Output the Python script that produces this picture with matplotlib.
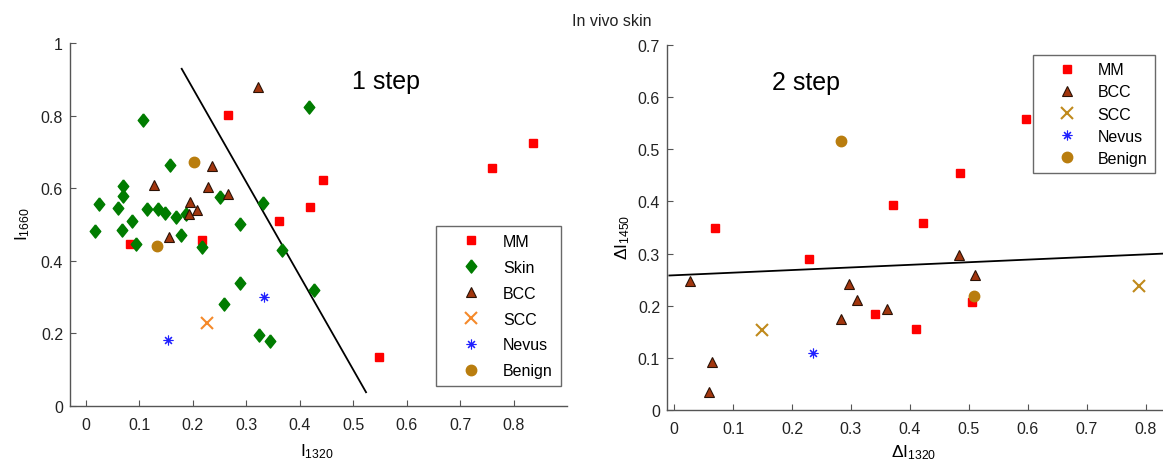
import numpy as np
import matplotlib
matplotlib.use("Agg")
import matplotlib.pyplot as plt

plt.rcParams['font.family'] = ['Liberation Sans', 'DejaVu Sans']
plt.rcParams['mathtext.fontset'] = 'custom'
plt.rcParams['mathtext.rm'] = 'Liberation Sans'
plt.rcParams['mathtext.it'] = 'Liberation Sans:italic'

# ---- 1 step (I1320 vs I1660) ----
mm1_x = [0.083, 0.2175, 0.266, 0.361, 0.420, 0.444, 0.5475, 0.759, 0.836]
mm1_y = [0.446, 0.456, 0.801, 0.509, 0.547, 0.623, 0.134, 0.657, 0.725]
skin_x = [0.016, 0.025, 0.059, 0.067, 0.070, 0.070, 0.086, 0.093, 0.106, 0.114,
          0.134, 0.148, 0.157, 0.168, 0.178, 0.1875, 0.2175, 0.251, 0.259, 0.289,
          0.289, 0.323, 0.331, 0.344, 0.366, 0.418, 0.426]
skin_y = [0.482, 0.556, 0.546, 0.484, 0.606, 0.578, 0.510, 0.446, 0.789, 0.542,
          0.542, 0.532, 0.664, 0.520, 0.471, 0.528, 0.437, 0.575, 0.281, 0.501,
          0.339, 0.195, 0.560, 0.178, 0.429, 0.823, 0.321]
bcc1_x = [0.128, 0.155, 0.194, 0.1925, 0.207, 0.228, 0.236, 0.266, 0.322]
bcc1_y = [0.610, 0.467, 0.561, 0.530, 0.540, 0.604, 0.660, 0.584, 0.878]
scc1_x = [0.227]
scc1_y = [0.228]
nev1_x = [0.153, 0.333]
nev1_y = [0.183, 0.299]
ben1_x = [0.133, 0.2025]
ben1_y = [0.442, 0.672]
line1_x = [0.179, 0.524]
line1_y = [0.929, 0.038]

# ---- 2 step (dI1320 vs dI1450) ----
mm2_x = [0.069, 0.229, 0.341, 0.371, 0.410, 0.4226, 0.484, 0.506, 0.596]
mm2_y = [0.350, 0.290, 0.184, 0.394, 0.155, 0.359, 0.455, 0.208, 0.558]
bcc2_x = [0.027, 0.065, 0.059, 0.2836, 0.2966, 0.3107, 0.3605, 0.483, 0.511]
bcc2_y = [0.248, 0.093, 0.035, 0.174, 0.241, 0.2116, 0.1937, 0.297, 0.2595]
scc2_x = [0.1497, 0.788]
scc2_y = [0.154, 0.237]
nev2_x = [0.235]
nev2_y = [0.109]
ben2_x = [0.2825, 0.508]
ben2_y = [0.515, 0.219]
line2_x = [-0.008, 0.9]
line2_y = [0.258, 0.3035]

xt1 = [0, 0.1, 0.2, 0.3, 0.4, 0.5, 0.6, 0.7, 0.8]
xt1_lab = ['0', '0.1', '0.2', '0.3', '0.4', '0.5', '0.6', '0.7', '0.8']
yt1 = [0, 0.2, 0.4, 0.6, 0.8, 1.0]
yt1_lab = ['0', '0.2', '0.4', '0.6', '0.8', '1']
yt2 = [0, 0.1, 0.2, 0.3, 0.4, 0.5, 0.6, 0.7]
yt2_lab = ['0', '0.1', '0.2', '0.3', '0.4', '0.5', '0.6', '0.7']

RED = '#ff0000'
GREEN = '#007c00'
BROWN = '#a2360e'
BROWN_EDGE = '#2a1206'
ORANGE = '#f5892a'
GOLD = '#c08a1c'
BLUE = '#2020ff'
BENIGN = '#b97d0e'
AXC = '#555555'

# matlab-like diamond (wider than mpl 'd')
DIAMOND = [(0, 1), (0.8, 0), (0, -1), (-0.8, 0), (0, 1)]

fig = plt.figure(figsize=(11.63, 4.64), dpi=100)
ax1 = fig.add_axes([0.0602, 0.1228, 0.4273, 0.7823])
ax2 = fig.add_axes([0.5735, 0.1142, 0.4265, 0.7866])

def style(ax):
    for s in ['top', 'right']:
        ax.spines[s].set_visible(False)
    for s in ['left', 'bottom']:
        ax.spines[s].set_color(AXC)
        ax.spines[s].set_linewidth(1.0)
    ax.tick_params(direction='in', length=4, width=0.8, color=AXC,
                   labelsize=11.5, labelcolor='#222222')
    ax.tick_params(axis='x', pad=8)
    ax.tick_params(axis='y', pad=5)

# left panel
ax1.plot(line1_x, line1_y, color='black', lw=1.3, zorder=1)
ax1.plot(mm1_x, mm1_y, ls='none', marker='s', ms=6, color=RED, mec=RED, label='MM')
ax1.plot(skin_x, skin_y, ls='none', marker=DIAMOND, ms=9.5, color=GREEN, mec=GREEN, label='Skin')
ax1.plot(bcc1_x, bcc1_y, ls='none', marker='^', ms=7.5, color=BROWN, mec=BROWN_EDGE,
         mew=0.8, label='BCC')
ax1.plot(scc1_x, scc1_y, ls='none', marker='x', ms=8, color=ORANGE, mew=1.5, label='SCC')
ax1.plot(nev1_x, nev1_y, ls='none', marker=(8, 2, 0), ms=7, color=BLUE, mew=0.8, label='Nevus')
ax1.plot(ben1_x, ben1_y, ls='none', marker='o', ms=7.5, color=BENIGN, mec=BENIGN, label='Benign')
ax1.set_xlim(-0.03, 0.9)
ax1.set_ylim(0, 1)
ax1.set_xticks(xt1)
ax1.set_xticklabels(xt1_lab)
ax1.set_yticks(yt1)
ax1.set_yticklabels(yt1_lab)
style(ax1)
ax1.set_xlabel(r'$\mathrm{I}_{1320}$', fontsize=12.5)
ax1.xaxis.set_label_coords(0.497, -0.096)
ax1.set_ylabel(r'$\mathrm{I}_{1660}$', fontsize=12.5)
ax1.yaxis.set_label_coords(-0.0765, 0.505)
ax1.text(0.567, 0.876, '1 step', transform=ax1.transAxes, fontsize=18, va='baseline')
leg1 = ax1.legend(loc='upper left', bbox_to_anchor=(0.3749, 0.5108),
                  bbox_transform=fig.transFigure, fontsize=11.5, frameon=True,
                  fancybox=False, handlelength=3.4, handletextpad=0.3,
                  borderpad=0.5, labelspacing=0.68, borderaxespad=0)
leg1.get_frame().set_edgecolor('#444444')
leg1.get_frame().set_linewidth(1.0)

# right panel
ax2.plot(line2_x, line2_y, color='black', lw=1.3, zorder=1)
ax2.plot(mm2_x, mm2_y, ls='none', marker='s', ms=6, color=RED, mec=RED, label='MM')
ax2.plot(bcc2_x, bcc2_y, ls='none', marker='^', ms=7.5, color=BROWN, mec=BROWN_EDGE,
         mew=0.8, label='BCC')
ax2.plot(scc2_x, scc2_y, ls='none', marker='x', ms=8, color=GOLD, mew=1.5, label='SCC')
ax2.plot(nev2_x, nev2_y, ls='none', marker=(8, 2, 0), ms=7, color=BLUE, mew=0.8, label='Nevus')
ax2.plot(ben2_x, ben2_y, ls='none', marker='o', ms=7.5, color=BENIGN, mec=BENIGN, label='Benign')
ax2.set_xlim(-0.012, 0.829)
ax2.set_ylim(0, 0.7)
ax2.set_xticks(xt1)
ax2.set_xticklabels(xt1_lab)
ax2.set_yticks(yt2)
ax2.set_yticklabels(yt2_lab)
style(ax2)
ax2.set_xlabel(r'$\mathrm{\Delta I}_{1320}$', fontsize=12.5)
ax2.xaxis.set_label_coords(0.498, -0.088)
ax2.set_ylabel(r'$\mathrm{\Delta I}_{1450}$', fontsize=12.5)
ax2.yaxis.set_label_coords(-0.0706, 0.475)
ax2.text(0.212, 0.879, '2 step', transform=ax2.transAxes, fontsize=18, va='baseline')
leg2 = ax2.legend(loc='upper left', bbox_to_anchor=(0.8882, 0.8793),
                  bbox_transform=fig.transFigure, fontsize=11.5, frameon=True,
                  fancybox=False, handlelength=3.3, handletextpad=0.3,
                  borderpad=0.45, labelspacing=0.45, borderaxespad=0)
leg2.get_frame().set_edgecolor('#444444')
leg2.get_frame().set_linewidth(1.0)

fig.text(0.526, 0.953, 'In vivo skin', ha='center', va='center', fontsize=11.5,
         color='#222222')

fig.savefig('out.png', dpi=100)
